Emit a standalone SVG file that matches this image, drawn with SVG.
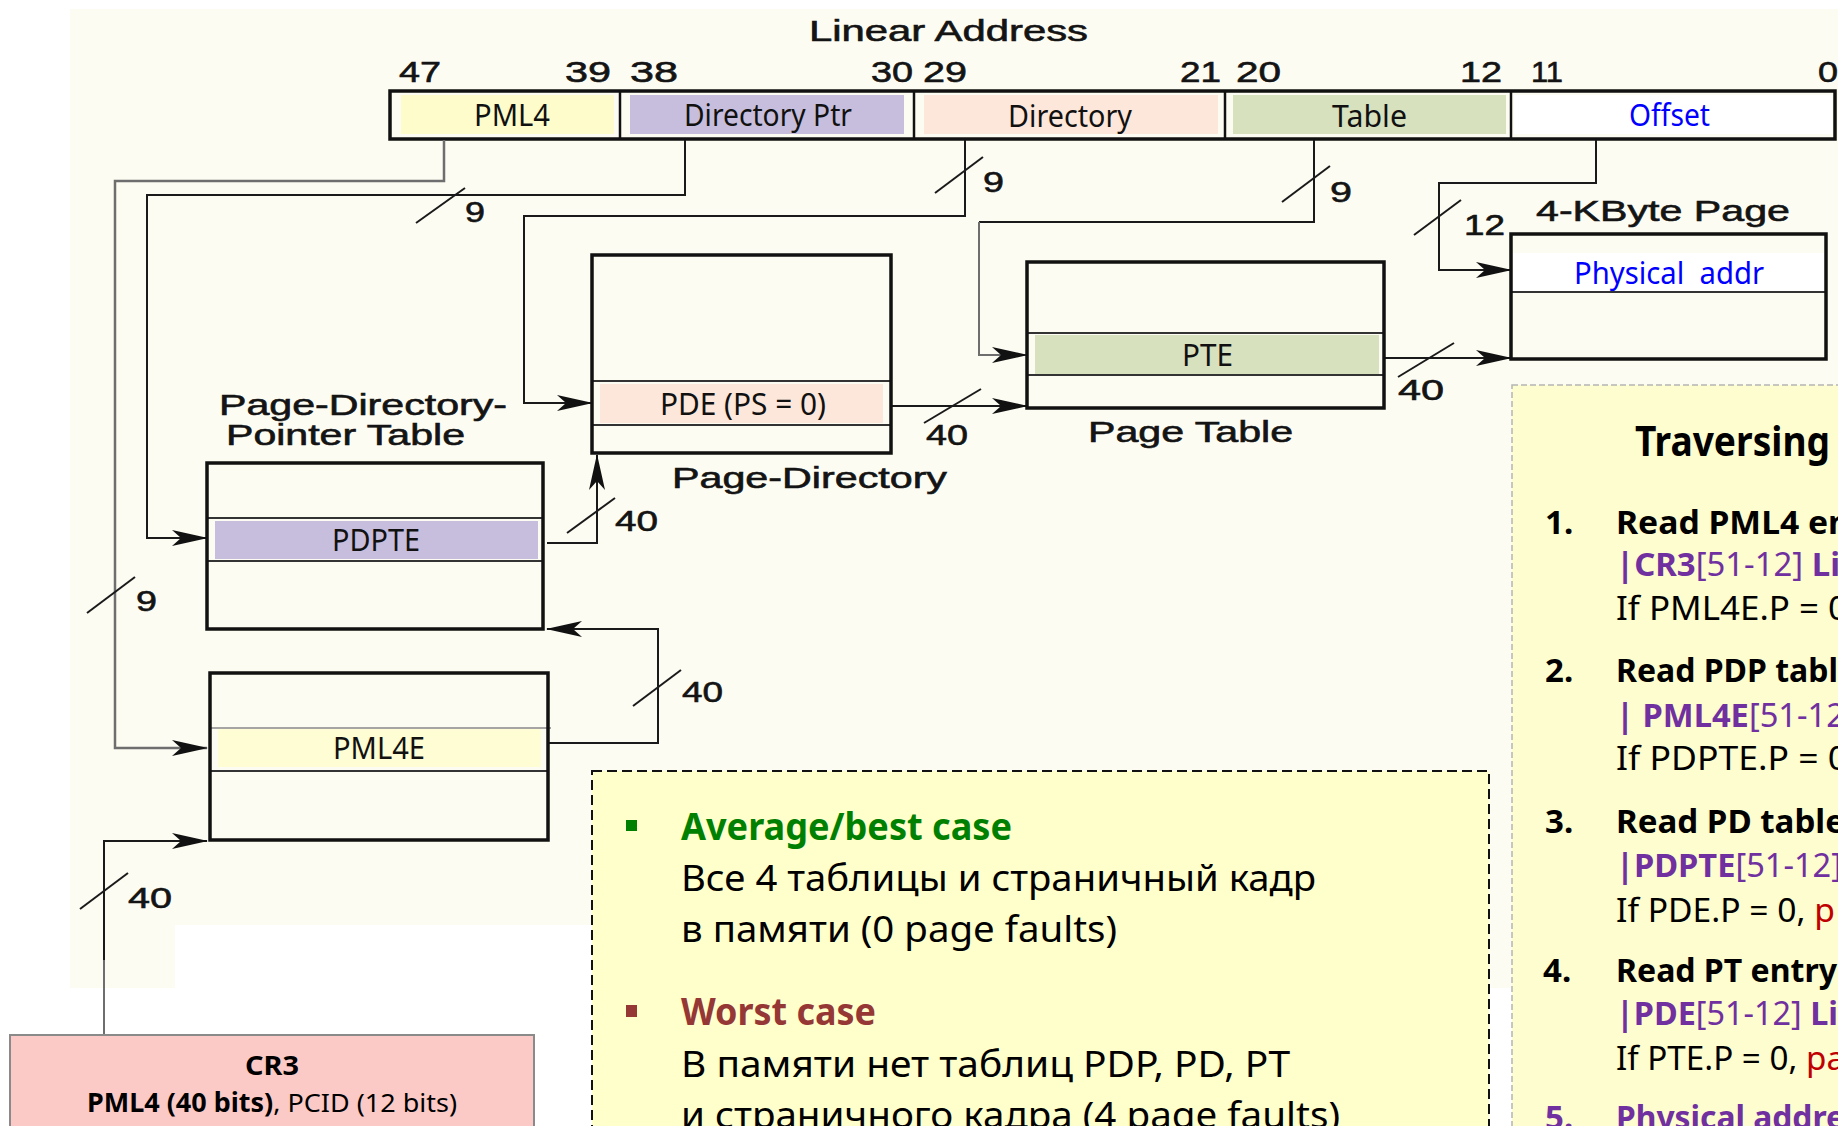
<svg xmlns="http://www.w3.org/2000/svg" width="1838" height="1126" viewBox="0 0 1838 1126">
<style>
.ar{font-family:"Liberation Sans",Arial,sans-serif;font-size:29px;fill:#141414;stroke:#141414;stroke-width:0.6}
.lb{font-family:"Noto Sans","Open Sans",sans-serif;font-size:31px;fill:#111}
.tb{fill:none;stroke:#111;stroke-width:3.5}
.dv{stroke:#333;stroke-width:2}
.cn{fill:none;stroke:#1a1a1a;stroke-width:2}
.cg{fill:none;stroke:#6e6e6e;stroke-width:2.5}
.sl{stroke:#1a1a1a;stroke-width:2}
.pn{font-family:"Noto Sans","Open Sans",sans-serif;font-size:33px;fill:#000}
.b{font-weight:700}
.pu{fill:#7030a0}
.rd{fill:#c00000}
.mid{font-family:"Noto Sans","Open Sans",sans-serif;font-size:37px;fill:#000}
</style>
<defs>
<marker id="ah" markerUnits="userSpaceOnUse" markerWidth="36" markerHeight="18" refX="35" refY="9" orient="auto" viewBox="0 0 36 18">
<path d="M0,1 L36,9 L0,17 L9,9 Z" fill="#111"/>
</marker>
</defs>

<g id="background">
<rect width="1838" height="1126" fill="#ffffff"/>
<path d="M70,9 H1838 V988 H1489 V925 H175 V988 H70 Z" fill="#fdfcf3"/>
</g>

<g id="linear-address">
<text class="ar" x="809" y="41" textLength="279" lengthAdjust="spacingAndGlyphs">Linear Address</text>
<text class="ar" x="399" y="82" textLength="42" lengthAdjust="spacingAndGlyphs">47</text>
<text class="ar" x="565" y="82" textLength="46" lengthAdjust="spacingAndGlyphs">39</text>
<text class="ar" x="630" y="82" textLength="48" lengthAdjust="spacingAndGlyphs">38</text>
<text class="ar" x="871" y="82" textLength="42" lengthAdjust="spacingAndGlyphs">30</text>
<text class="ar" x="923" y="82" textLength="44" lengthAdjust="spacingAndGlyphs">29</text>
<text class="ar" x="1180" y="82" textLength="41" lengthAdjust="spacingAndGlyphs">21</text>
<text class="ar" x="1236" y="82" textLength="45" lengthAdjust="spacingAndGlyphs">20</text>
<text class="ar" x="1460" y="82" textLength="42" lengthAdjust="spacingAndGlyphs">12</text>
<text class="ar" x="1531" y="82" textLength="32" lengthAdjust="spacingAndGlyphs">11</text>
<text class="ar" x="1818" y="82" textLength="20" lengthAdjust="spacingAndGlyphs">0</text>
<rect x="401" y="95" width="213" height="39" fill="#fefccb"/>
<rect x="630" y="95" width="274" height="39" fill="#c6bedc"/>
<rect x="924" y="95" width="294" height="39" fill="#fde7da"/>
<rect x="1233" y="95" width="273" height="39" fill="#d7e1bd"/>
<rect x="1514" y="95" width="318" height="39" fill="#ffffff"/>
<rect class="tb" x="390" y="91" width="1445" height="48"/>
<line x1="620" y1="91" x2="620" y2="139" stroke="#111" stroke-width="2.5"/>
<line x1="914" y1="91" x2="914" y2="139" stroke="#111" stroke-width="2.5"/>
<line x1="1225" y1="91" x2="1225" y2="139" stroke="#111" stroke-width="2.5"/>
<line x1="1511" y1="91" x2="1511" y2="139" stroke="#111" stroke-width="2.5"/>
<text class="lb" x="474" y="126" textLength="76" lengthAdjust="spacingAndGlyphs">PML4</text>
<text class="lb" x="684" y="126" textLength="168" lengthAdjust="spacingAndGlyphs">Directory Ptr</text>
<text class="lb" x="1008" y="127" textLength="124" lengthAdjust="spacingAndGlyphs">Directory</text>
<text class="lb" x="1332" y="127" textLength="75" lengthAdjust="spacingAndGlyphs">Table</text>
<text class="lb" x="1629" y="126" textLength="81" lengthAdjust="spacingAndGlyphs" style="fill:#0000ff">Offset</text>
</g>

<g id="connectors">
<path class="cg" d="M444,140 V181 H115 V748 H207" marker-end="url(#ah)"/>
<path class="cn" d="M685,140 V195 H147 V538 H207" marker-end="url(#ah)"/>
<path class="cn" d="M965,140 V216 H524 V403 H592" marker-end="url(#ah)"/>
<path class="cn" d="M1314,140 V222 H979"/>
<path class="cg" d="M979,222 V355 H1027" marker-end="url(#ah)" style="stroke-width:2"/>
<path class="cn" d="M1596,140 V183 H1439 V270 H1511" marker-end="url(#ah)"/>
<path class="cn" d="M1384,358 H1511" marker-end="url(#ah)"/>
<path class="cn" d="M891,406 H1027" marker-end="url(#ah)"/>
<path class="cn" d="M547,543 H597 V455" marker-end="url(#ah)"/>
<path class="cn" d="M549,743 H658 V629 H547" marker-end="url(#ah)"/>
<path class="cg" d="M104,1035 V958" style="stroke-width:2"/>
<path class="cn" d="M104,960 V841 H207" marker-end="url(#ah)"/>
<line class="sl" x1="416" y1="223" x2="465" y2="188"/>
<line class="sl" x1="935" y1="193" x2="983" y2="157"/>
<line class="sl" x1="1282" y1="202" x2="1330" y2="166"/>
<line class="sl" x1="1414" y1="235" x2="1461" y2="200"/>
<line class="sl" x1="87" y1="613" x2="135" y2="577"/>
<line class="sl" x1="80" y1="909" x2="128" y2="873"/>
<line class="sl" x1="924" y1="423" x2="981" y2="389"/>
<line class="sl" x1="1398" y1="377" x2="1454" y2="343"/>
<line class="sl" x1="567" y1="533" x2="615" y2="498"/>
<line class="sl" x1="633" y1="706" x2="681" y2="670"/>
<text class="ar" x="465" y="222" textLength="20" lengthAdjust="spacingAndGlyphs">9</text>
<text class="ar" x="983" y="192" textLength="21" lengthAdjust="spacingAndGlyphs">9</text>
<text class="ar" x="1330" y="202" textLength="22" lengthAdjust="spacingAndGlyphs">9</text>
<text class="ar" x="136" y="611" textLength="21" lengthAdjust="spacingAndGlyphs">9</text>
<text class="ar" x="1464" y="235" textLength="41" lengthAdjust="spacingAndGlyphs">12</text>
<text class="ar" x="926" y="445" textLength="42" lengthAdjust="spacingAndGlyphs">40</text>
<text class="ar" x="1398" y="400" textLength="46" lengthAdjust="spacingAndGlyphs">40</text>
<text class="ar" x="615" y="531" textLength="43" lengthAdjust="spacingAndGlyphs">40</text>
<text class="ar" x="682" y="702" textLength="41" lengthAdjust="spacingAndGlyphs">40</text>
<text class="ar" x="128" y="908" textLength="44" lengthAdjust="spacingAndGlyphs">40</text>
</g>

<g id="pml4-table">
<rect x="218" y="729" width="323" height="38" fill="#fffdd3"/>
<line x1="210" y1="728" x2="551" y2="728" stroke="#888" stroke-width="1.5"/>
<line class="dv" x1="210" y1="771" x2="548" y2="771"/>
<rect class="tb" x="210" y="673" width="338" height="167"/>
<text class="lb" x="333" y="759" textLength="92" lengthAdjust="spacingAndGlyphs">PML4E</text>
</g>

<g id="pdpt">
<rect x="215" y="521" width="323" height="38" fill="#c6bedc"/>
<line class="dv" x1="207" y1="518" x2="543" y2="518"/>
<line class="dv" x1="207" y1="561" x2="543" y2="561"/>
<rect class="tb" x="207" y="463" width="336" height="166"/>
<text class="lb" x="332" y="551" textLength="88" lengthAdjust="spacingAndGlyphs">PDPTE</text>
<text class="ar" x="219" y="415" textLength="288" lengthAdjust="spacingAndGlyphs">Page-Directory-</text>
<text class="ar" x="226" y="445" textLength="239" lengthAdjust="spacingAndGlyphs">Pointer Table</text>
</g>

<g id="page-directory">
<rect x="600" y="384" width="283" height="39" fill="#fde7da"/>
<line class="dv" x1="592" y1="381" x2="891" y2="381"/>
<line class="dv" x1="592" y1="425" x2="891" y2="425"/>
<rect class="tb" x="592" y="255" width="299" height="198"/>
<text class="lb" x="660" y="415" textLength="166" lengthAdjust="spacingAndGlyphs">PDE (PS = 0)</text>
<text class="ar" x="672" y="488" textLength="275" lengthAdjust="spacingAndGlyphs">Page-Directory</text>
</g>

<g id="page-table">
<rect x="1035" y="335" width="344" height="39" fill="#d7e1bd"/>
<line class="dv" x1="1027" y1="333" x2="1384" y2="333"/>
<line class="dv" x1="1027" y1="375" x2="1384" y2="375"/>
<rect class="tb" x="1027" y="262" width="357" height="146"/>
<text class="lb" x="1182" y="366" textLength="51" lengthAdjust="spacingAndGlyphs">PTE</text>
<text class="ar" x="1088" y="442" textLength="205" lengthAdjust="spacingAndGlyphs">Page Table</text>
</g>

<g id="page-4k">
<rect x="1513" y="253" width="311" height="39" fill="#ffffff"/>
<line class="dv" x1="1511" y1="292" x2="1826" y2="292"/>
<rect class="tb" x="1511" y="234" width="315" height="125"/>
<text class="lb" x="1574" y="284" textLength="190" lengthAdjust="spacingAndGlyphs" style="fill:#0000ff;white-space:pre">Physical  addr</text>
<text class="ar" x="1536" y="221" textLength="254" lengthAdjust="spacingAndGlyphs">4-KByte Page</text>
</g>

<g id="traversing-panel">
<rect x="1512" y="385" width="340" height="760" fill="#fefdcf" stroke="#b4b4b4" stroke-width="1.5" stroke-dasharray="6 3"/>
<text class="pn b" x="1635" y="456" style="font-size:42px" textLength="195" lengthAdjust="spacingAndGlyphs">Traversing</text>
<text class="pn b" x="1545" y="534">1.</text>
<text class="pn b" x="1616" y="534" textLength="234" lengthAdjust="spacingAndGlyphs">Read PML4 en</text>
<text class="pn pu" x="1616" y="576" textLength="224" lengthAdjust="spacingAndGlyphs"><tspan class="b">|CR3</tspan>[51-12] <tspan class="b">Li</tspan></text>
<text class="pn" x="1616" y="620" textLength="232" lengthAdjust="spacingAndGlyphs">If PML4E.P = 0</text>
<text class="pn b" x="1545" y="682">2.</text>
<text class="pn b" x="1616" y="682" textLength="222" lengthAdjust="spacingAndGlyphs">Read PDP tabl</text>
<text class="pn pu" x="1616" y="727" textLength="229" lengthAdjust="spacingAndGlyphs"><tspan class="b">| PML4E</tspan>[51-12</text>
<text class="pn" x="1616" y="770" textLength="232" lengthAdjust="spacingAndGlyphs">If PDPTE.P = 0</text>
<text class="pn b" x="1545" y="833">3.</text>
<text class="pn b" x="1616" y="833" textLength="229" lengthAdjust="spacingAndGlyphs">Read PD table</text>
<text class="pn pu" x="1616" y="877" textLength="226" lengthAdjust="spacingAndGlyphs"><tspan class="b">|PDPTE</tspan>[51-12]</text>
<text class="pn" x="1616" y="922" textLength="219" lengthAdjust="spacingAndGlyphs">If PDE.P = 0, <tspan class="rd">p</tspan></text>
<text class="pn b" x="1543" y="982">4.</text>
<text class="pn b" x="1616" y="982" textLength="221" lengthAdjust="spacingAndGlyphs">Read PT entry</text>
<text class="pn pu" x="1616" y="1025" textLength="222" lengthAdjust="spacingAndGlyphs"><tspan class="b">|PDE</tspan>[51-12] <tspan class="b">Li</tspan></text>
<text class="pn" x="1616" y="1070" textLength="229" lengthAdjust="spacingAndGlyphs">If PTE.P = 0, <tspan class="rd">pa</tspan></text>
<text class="pn b pu" x="1545" y="1129">5.</text>
<text class="pn b pu" x="1616" y="1129" textLength="229" lengthAdjust="spacingAndGlyphs">Physical addre</text>
</g>

<g id="cases-box">
<rect x="592" y="771" width="897" height="380" fill="#ffffcc" stroke="#111" stroke-width="2" stroke-dasharray="10 5"/>
<rect x="626" y="820" width="11" height="11" fill="#008000"/>
<text class="mid b" x="681" y="840" textLength="331" lengthAdjust="spacingAndGlyphs" style="fill:#008000">Average/best case</text>
<text class="mid" x="681" y="891" textLength="635" lengthAdjust="spacingAndGlyphs">Все 4 таблицы и страничный кадр</text>
<text class="mid" x="681" y="942" textLength="436" lengthAdjust="spacingAndGlyphs">в памяти (0 page faults)</text>
<rect x="626" y="1005" width="11" height="12" fill="#953735"/>
<text class="mid b" x="681" y="1025" textLength="195" lengthAdjust="spacingAndGlyphs" style="fill:#953735">Worst case</text>
<text class="mid" x="681" y="1077" textLength="609" lengthAdjust="spacingAndGlyphs">В памяти нет таблиц PDP, PD, PT</text>
<text class="mid" x="681" y="1128" textLength="659" lengthAdjust="spacingAndGlyphs">и страничного кадра (4 page faults)</text>
</g>

<g id="cr3">
<rect x="10" y="1035" width="524" height="110" fill="#fccac6" stroke="#8a8a8a" stroke-width="2"/>
<text x="272" y="1075" text-anchor="middle" font-family="Noto Sans, Open Sans, sans-serif" font-size="26" font-weight="700" textLength="54" lengthAdjust="spacingAndGlyphs">CR3</text>
<text x="87" y="1112" font-family="Noto Sans, Open Sans, sans-serif" font-size="26" textLength="370" lengthAdjust="spacingAndGlyphs"><tspan font-weight="700">PML4 (40 bits)</tspan>, PCID (12 bits)</text>
</g>
</svg>
